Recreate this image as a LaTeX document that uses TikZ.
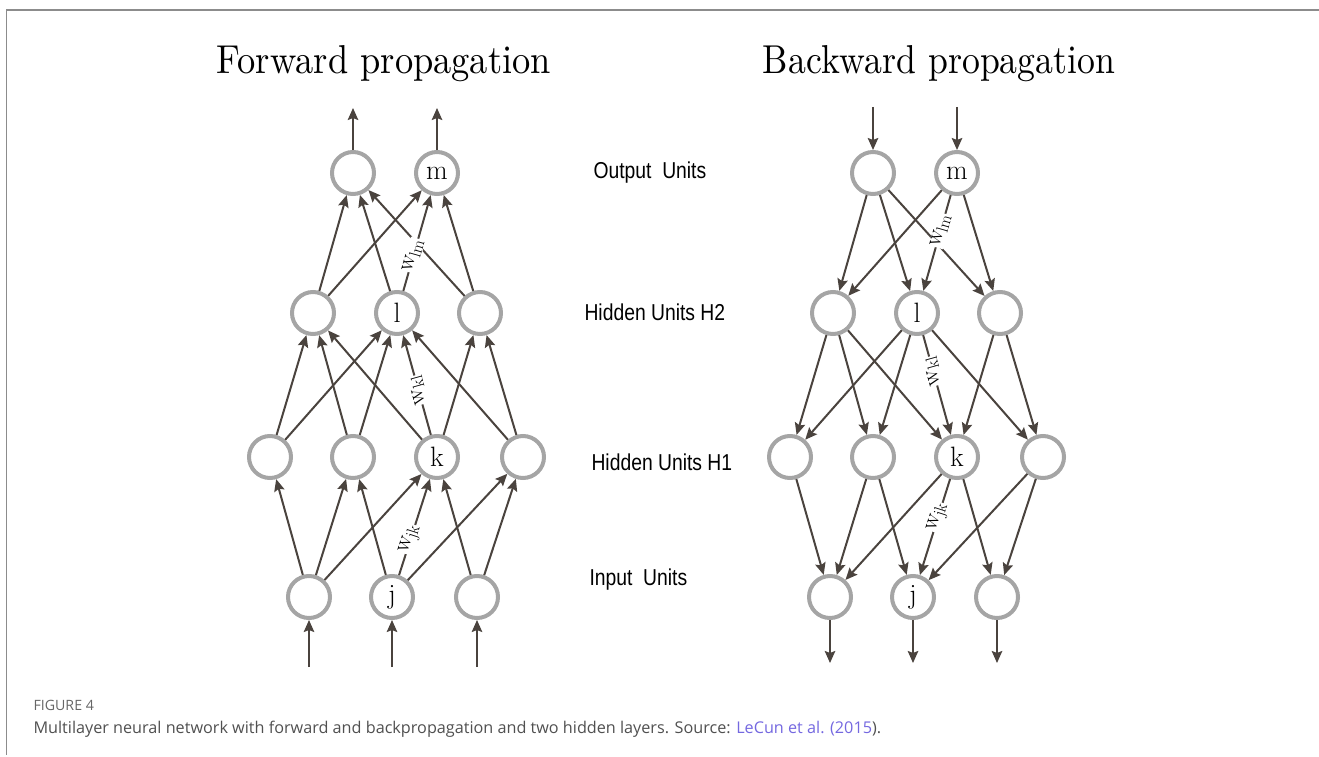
\documentclass[tikz,border=0pt]{standalone}
\usepackage{fontspec}
\usetikzlibrary{arrows.meta}
\newfontfamily\labfont{Liberation Sans}
\newfontfamily\capfont{Open Sans}
\definecolor{arrowc}{HTML}{4A433E}
\definecolor{circc}{HTML}{A5A5A5}
\definecolor{framec}{HTML}{8C8C8C}
\definecolor{capc}{HTML}{505050}
\definecolor{figc}{HTML}{666666}
\definecolor{linkc}{HTML}{7468E0}
\begin{document}
\begin{tikzpicture}[x=1pt,y=-1pt,
 unit/.style={circle,draw=circc,line width=4pt,minimum size=42pt,inner sep=0pt,font=\fontsize{28}{28}\selectfont},
 arr/.style={draw=arrowc,line width=2pt,-{Stealth[length=12pt,width=10.5pt,inset=2pt]}},
 wlab/.style={fill=white,inner sep=0.5pt,font=\fontsize{24}{24}\selectfont},
 layer/.style={anchor=base west,font=\labfont\fontsize{23}{23}\selectfont},
]
\useasboundingbox (0,0) rectangle (1319,757);
% frame
\draw[framec,line width=1.6pt] (1319,10) -- (6.5,10) -- (6.5,755);
% titles
\node[anchor=base] (tf) at (384,74) {\resizebox{334pt}{28pt}{Forward propagation}};
\node[anchor=base] (tb) at (939,74) {\resizebox{352pt}{28pt}{Backward propagation}};
% layer labels
\node[layer] (lo) at (590,178) {\scalebox{0.84}[1]{Output\ \ Units}};
\node[layer] (lh2) at (581,320) {\scalebox{0.84}[1]{Hidden Units H2}};
\node[layer] (lh1) at (588,470) {\scalebox{0.84}[1]{Hidden Units H1}};
\node[layer] (li) at (586,585) {\scalebox{0.84}[1]{Input\ \ Units}};
% ---------- forward network ----------
\node[unit] (fA1) at (353,173) {};
\node[unit] (fA2) at (437,173) {m};
\node[unit] (fL1) at (313,313) {};
\node[unit] (fL2) at (397,313) {l};
\node[unit] (fL3) at (480,313) {};
\node[unit] (fK1) at (270,457) {};
\node[unit] (fK2) at (353,457) {};
\node[unit] (fK3) at (437,457) {k};
\node[unit] (fK4) at (523,457) {};
\node[unit] (fI1) at (309,597) {};
\node[unit] (fI2) at (392,597) {j};
\node[unit] (fI3) at (477,597) {};
\coordinate (fo1) at (353,108);
\coordinate (fo2) at (437,108);
\coordinate (fi1) at (309,667);
\coordinate (fi2) at (392,667);
\coordinate (fi3) at (477,667);
\draw[arr] (fA1) -- (fo1);
\draw[arr] (fA2) -- (fo2);
\draw[arr] (fi1) -- (fI1);
\draw[arr] (fi2) -- (fI2);
\draw[arr] (fi3) -- (fI3);
\foreach \s/\t in {L1/A1,L1/A2,L2/A1,L2/A2,L3/A1,L3/A2,
  K1/L1,K1/L2,K2/L1,K2/L2,K3/L1,K3/L2,K3/L3,K4/L2,K4/L3,
  I1/K1,I1/K2,I1/K3,I2/K2,I2/K3,I2/K4,I3/K3,I3/K4}
  \draw[arr] (f\s) -- (f\t);
% ---------- backward network ----------
\node[unit] (bA1) at (873,173) {};
\node[unit] (bA2) at (957,173) {m};
\node[unit] (bL1) at (833,313) {};
\node[unit] (bL2) at (917,313) {l};
\node[unit] (bL3) at (1000,313) {};
\node[unit] (bK1) at (790,457) {};
\node[unit] (bK2) at (873,457) {};
\node[unit] (bK3) at (957,457) {k};
\node[unit] (bK4) at (1043,457) {};
\node[unit] (bI1) at (830,597) {};
\node[unit] (bI2) at (913,597) {j};
\node[unit] (bI3) at (997,597) {};
\coordinate (bo1) at (873,107);
\coordinate (bo2) at (957,107);
\coordinate (bi1) at (830,663);
\coordinate (bi2) at (913,663);
\coordinate (bi3) at (997,663);
\draw[arr] (bo1) -- (bA1);
\draw[arr] (bo2) -- (bA2);
\draw[arr] (bI1) -- (bi1);
\draw[arr] (bI2) -- (bi2);
\draw[arr] (bI3) -- (bi3);
\foreach \s/\t in {L1/A1,L1/A2,L2/A1,L2/A2,L3/A1,L3/A2,
  K1/L1,K1/L2,K2/L1,K2/L2,K3/L1,K3/L2,K3/L3,K4/L2,K4/L3,
  I1/K1,I1/K2,I1/K3,I2/K2,I2/K3,I2/K4,I3/K3,I3/K4}
  \draw[arr] (b\t) -- (b\s);
% ---------- weight labels ----------
\path (fL2) -- node[wlab,pos=0.37,rotate=74] (wf1) {$\mathrm{w}_{\mathrm{lm}}$} (fA2);
\path (fK3) -- node[wlab,pos=0.45,rotate=105.5] (wf2) {$\mathrm{w}_{\mathrm{kl}}$} (fL2);
\path (fI2) -- node[wlab,pos=0.37,rotate=72] (wf3) {$\mathrm{w}_{\mathrm{jk}}$} (fK3);
\path (bL2) -- node[wlab,pos=0.63,rotate=74] (wb1) {$\mathrm{w}_{\mathrm{lm}}$} (bA2);
\path (bL2) -- node[wlab,pos=0.36,rotate=105.5] (wb2) {$\mathrm{w}_{\mathrm{kl}}$} (bK3);
\path (bI2) -- node[wlab,pos=0.6,rotate=72] (wb3) {$\mathrm{w}_{\mathrm{jk}}$} (bK3);
% ---------- caption ----------
\node[anchor=base west,font=\capfont\fontsize{14.2}{15}\selectfont,text=figc] (fig) at (30,710) {FIGURE 4};
\node[anchor=base west,font=\capfont\fontsize{16.2}{17}\selectfont,text=capc] (cap) at (30,733)
  {Multilayer neural network with forward and backpropagation and two hidden layers. Source: \textcolor{linkc}{LeCun et al. (2015}).};
\end{tikzpicture}
\end{document}
